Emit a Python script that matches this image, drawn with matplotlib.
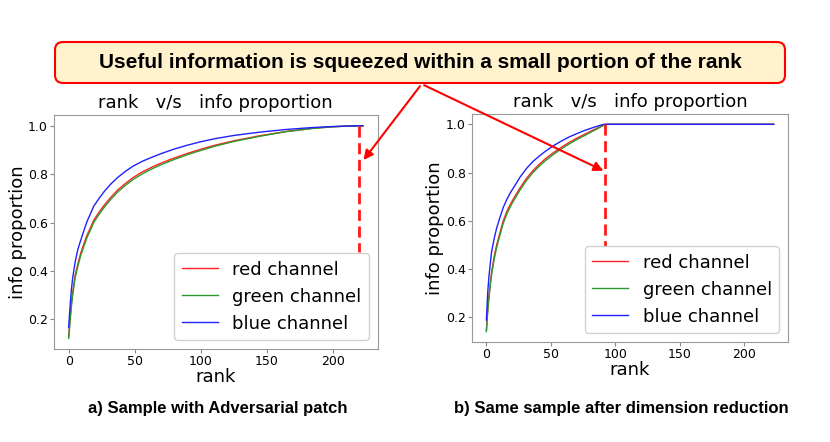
import matplotlib
matplotlib.use("Agg")
import matplotlib.pyplot as plt
from matplotlib.patches import FancyBboxPatch, FancyArrowPatch

# ---- data ----
ranks_a = [0, 1, 2, 3, 5, 7, 9, 12, 14, 17, 19, 23, 27, 32, 37, 43, 49, 56, 63, 70,
           80, 90, 100, 111, 125, 145, 165, 185, 200, 212, 223]
red_a   = [0.130, 0.200, 0.260, 0.310, 0.385, 0.430, 0.472, 0.520, 0.549, 0.585, 0.610,
           0.643, 0.673, 0.705, 0.734, 0.762, 0.787, 0.810, 0.829, 0.846, 0.867, 0.886,
           0.903, 0.920, 0.938, 0.959, 0.977, 0.990, 0.996, 0.999, 1.000]
green_a = [0.122, 0.190, 0.250, 0.300, 0.375, 0.420, 0.462, 0.510, 0.540, 0.576, 0.601,
           0.634, 0.664, 0.697, 0.726, 0.754, 0.779, 0.802, 0.822, 0.839, 0.861, 0.881,
           0.898, 0.916, 0.935, 0.957, 0.976, 0.989, 0.996, 0.999, 1.000]
blue_a  = [0.167, 0.250, 0.320, 0.370, 0.440, 0.490, 0.525, 0.575, 0.606, 0.643, 0.668,
           0.700, 0.729, 0.760, 0.786, 0.812, 0.834, 0.854, 0.870, 0.885, 0.904, 0.920,
           0.934, 0.947, 0.960, 0.974, 0.985, 0.993, 0.997, 0.999, 1.000]

ranks_b = [0, 1, 2, 3, 4, 6, 8, 10, 13, 16, 19, 22, 26, 31, 36, 41, 46, 52, 58, 64,
           70, 76, 82, 86, 89, 91, 93, 120, 160, 200, 223]
red_b   = [0.146, 0.230, 0.290, 0.340, 0.385, 0.450, 0.500, 0.540, 0.598, 0.640, 0.672,
           0.700, 0.735, 0.775, 0.807, 0.834, 0.858, 0.882, 0.904, 0.924, 0.942, 0.958,
           0.974, 0.984, 0.992, 0.997, 1.000, 1.000, 1.000, 1.000, 1.000]
green_b = [0.140, 0.220, 0.280, 0.330, 0.375, 0.440, 0.490, 0.530, 0.588, 0.630, 0.663,
           0.691, 0.726, 0.766, 0.799, 0.826, 0.850, 0.875, 0.897, 0.918, 0.936, 0.953,
           0.970, 0.981, 0.990, 0.996, 1.000, 1.000, 1.000, 1.000, 1.000]
blue_b  = [0.188, 0.300, 0.370, 0.420, 0.470, 0.525, 0.570, 0.605, 0.654, 0.690, 0.720,
           0.745, 0.780, 0.816, 0.845, 0.868, 0.889, 0.911, 0.930, 0.947, 0.961, 0.974,
           0.985, 0.992, 0.997, 1.000, 1.000, 1.000, 1.000, 1.000, 1.000]

cutoff_a = 220
cutoff_b = 92.4
cut_low_a = 0.48
cut_low_b = 0.49

series_labels = ["red channel", "green channel", "blue channel"]
series_colors = ["#ff2020", "#2a9a2a", "#2020ff"]
title_text = "rank   v/s   info proportion"
xlabel_text = "rank"
ylabel_text = "info proportion"
banner_text = "Useful information is squeezed within a small portion of the rank"
caption_a = "a) Sample with Adversarial patch"
caption_b = "b) Same sample after dimension reduction"

fig = plt.figure(figsize=(8.3, 4.42), dpi=100)
ax_a = fig.add_axes([0.065, 0.2104, 0.390, 0.529])
ax_b = fig.add_axes([0.5687, 0.2262, 0.3807, 0.516])

def style(ax, ranks, r, g, b, cut, low, ylab_x):
    for vals, lab, col in zip([r, g, b], series_labels, series_colors):
        ax.plot(ranks, vals, color=col, lw=1.0, label=lab)
    ax.plot([cut, cut], [1.0, low], color="#ff1a1a", lw=2.0, ls=(0, (4, 2)))
    ax.set_title(title_text, fontsize=13, pad=5)
    ax.set_xlabel(xlabel_text, fontsize=13, labelpad=0)
    ax.set_ylabel(ylabel_text, fontsize=13)
    ax.yaxis.set_label_coords(ylab_x, 0.5)
    ax.set_xticks([0, 50, 100, 150, 200])
    ax.set_yticks([0.2, 0.4, 0.6, 0.8, 1.0])
    ax.tick_params(labelsize=9, color="#888888", length=3, pad=1.5)
    for s in ax.spines.values():
        s.set_color("#999999")
    ax.legend(handles=ax.lines[:3], loc="lower right", fontsize=13, framealpha=0.9)

style(ax_a, ranks_a, red_a, green_a, blue_a, cutoff_a, cut_low_a, -0.084)
style(ax_b, ranks_b, red_b, green_b, blue_b, cutoff_b, cut_low_b, -0.090)

# banner
box = FancyBboxPatch((0.55, 3.59), 7.30, 0.41, boxstyle="round,pad=0,rounding_size=0.08",
                     transform=fig.dpi_scale_trans, facecolor="#fff2cc", edgecolor="#ff0000",
                     lw=1.5, zorder=5)
fig.patches.append(box)
fig.text(0.506, 0.859, banner_text, ha="center", va="center", fontsize=15,
         fontweight="bold", family="Liberation Sans", zorder=6)

# arrows
start = (0.508, 0.810)
for end in [(0.436, 0.633), (0.730, 0.611)]:
    fig.add_artist(FancyArrowPatch(
        start, end, transform=fig.transFigure, arrowstyle="-|>", mutation_scale=14,
        color="#ff0000", lw=1.5, zorder=7))

fig.text(0.262, 0.075, caption_a, ha="center", va="center", fontsize=12,
         fontweight="bold", family="Liberation Sans")
fig.text(0.748, 0.075, caption_b, ha="center", va="center", fontsize=12,
         fontweight="bold", family="Liberation Sans")

fig.savefig("out.png", dpi=100)
